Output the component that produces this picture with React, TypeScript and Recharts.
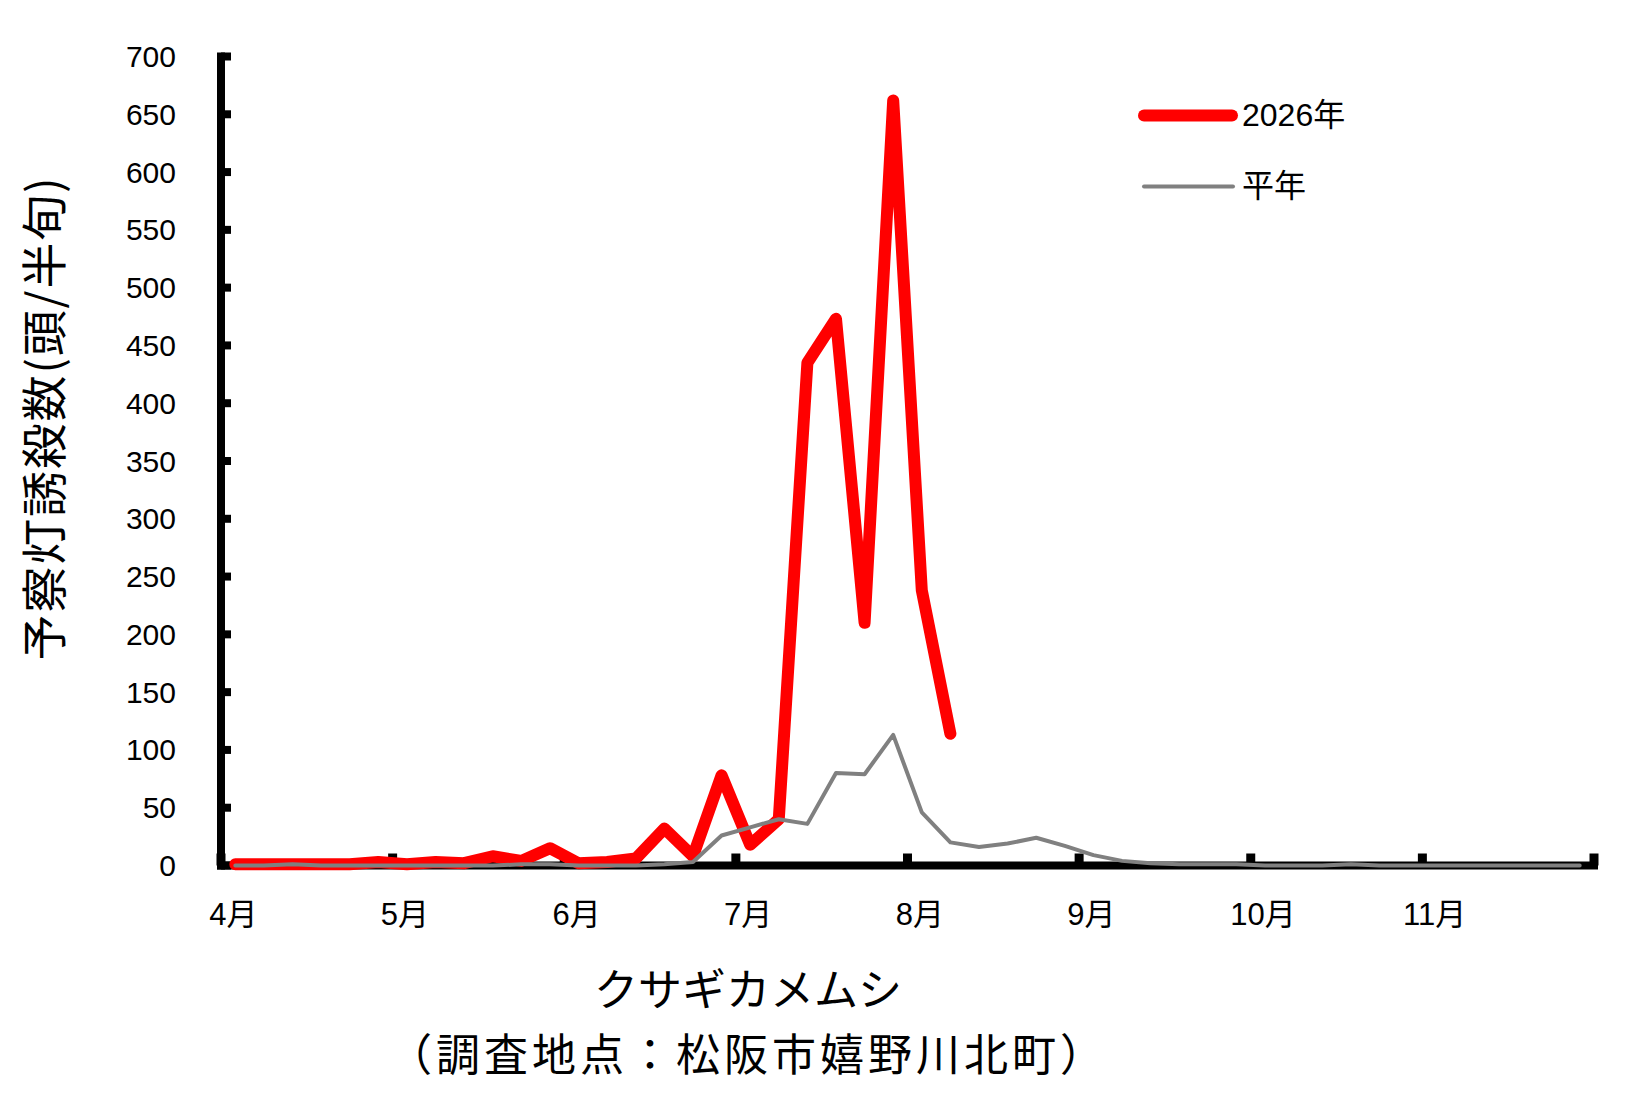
import React from 'react';
import { LineChart, Line, XAxis, YAxis, Legend } from 'recharts';

// 半旬 (5-day periods), 6 per month, April to November
const MONTHS = ['4月', '5月', '6月', '7月', '8月', '9月', '10月', '11月'];
const PERIODS_PER_MONTH = 6;

// 2026年 counts (stops at 8月 2nd 半旬)
const Y2026 = [
  1, 1, 1, 1, 1, 3,
  1, 3, 2, 8, 4, 15,
  2, 3, 6, 32, 8, 78,
  18, 40, 435, 473, 210, 662,
  238, 114,
];

// 平年 counts
const NORMAL = [
  0, 0, 1, 0, 0, 0,
  0, 0, 0, 0, 1, 1,
  0, 0, 0, 1, 3, 26,
  33, 40, 36, 80, 79, 113,
  46, 20, 16, 19, 24, 17,
  9, 4, 2, 1, 1, 1,
  0, 0, 0, 1, 0, 0,
  0, 0, 0, 0, 0, 0,
];

const Y_TICKS = [0, 50, 100, 150, 200, 250, 300, 350, 400, 450, 500, 550, 600, 650, 700];

const SERIES = [
  { key: 'y2026', name: '2026年', color: '#ff0000', width: 12 },
  { key: 'normal', name: '平年', color: '#808080', width: 4 },
];

const W = 1650;
const H = 1117;
const MARGIN = { top: 56.5, right: 56, bottom: 191.5, left: 0 };
const Y_AXIS_W = 221;
const X_AXIS_H = 60;
const PLOT_W = W - MARGIN.left - Y_AXIS_W - MARGIN.right;
const N_PERIODS = MONTHS.length * PERIODS_PER_MONTH;

const NUM_FONT = "'Liberation Sans', 'Noto Sans CJK JP', sans-serif";
const JP_FONT = "'Noto Sans CJK JP', sans-serif";

const data = NORMAL.map((v, i) => ({
  pos: i + 0.5,
  y2026: i < Y2026.length ? Y2026[i] : null,
  normal: v,
}));

const xTicks = [...MONTHS.map((_, k) => k * PERIODS_PER_MONTH), N_PERIODS];

function MonthTick(props: any) {
  const { x, y, payload } = props;
  const k = payload.value / PERIODS_PER_MONTH;
  const half = PLOT_W / N_PERIODS / 2;
  return (
    <g>
      <line x1={x} x2={x} y1={y} y2={y - 12} stroke="#000" strokeWidth={9} />
      {k < MONTHS.length && (
        <text
          x={x + half - 2}
          y={y + 49}
          textAnchor="middle"
          dominantBaseline="central"
          fontSize={31}
          fontFamily={NUM_FONT}
          fill="#000"
        >
          {MONTHS[k]}
        </text>
      )}
    </g>
  );
}

function CountTick(props: any) {
  const { x, y, payload } = props;
  return (
    <g>
      <line x1={x} x2={x + 10} y1={y} y2={y} stroke="#000" strokeWidth={8} />
      <text
        x={x - 45}
        y={y}
        textAnchor="end"
        dominantBaseline="central"
        fontSize={30}
        fontFamily={NUM_FONT}
        fill="#000"
      >
        {payload.value}
      </text>
    </g>
  );
}

function LegendBox(props: any) {
  const { payload = [] } = props;
  return (
    <div>
      {payload.map((entry: any) => {
        const s = SERIES.find((it) => it.key === entry.dataKey) || SERIES[0];
        const r = s.width / 2;
        return (
          <div key={s.key} style={{ display: 'flex', alignItems: 'center', height: 71 }}>
            <svg width={104} height={71}>
              <line
                x1={s.key === 'y2026' ? r : 4 + r}
                x2={s.key === 'y2026' ? 100 - r : 97 - r}
                y1={35.5}
                y2={35.5}
                stroke={s.color}
                strokeWidth={s.width}
                strokeLinecap="round"
              />
            </svg>
            <span style={{ fontSize: 32, fontFamily: NUM_FONT, color: '#000', lineHeight: '71px' }}>
              {entry.value}
            </span>
          </div>
        );
      })}
    </div>
  );
}

export default function App() {
  return (
    <div style={{ position: 'absolute', left: 0, top: 0, width: W, height: H, background: '#fff' }}>
      <LineChart width={W} height={H} data={data} margin={MARGIN}>
        <XAxis
          type="number"
          dataKey="pos"
          domain={[0, N_PERIODS]}
          ticks={xTicks}
          interval={0}
          height={X_AXIS_H}
          tickSize={0}
          tickMargin={0}
          tickLine={false}
          tick={<MonthTick />}
          axisLine={{ stroke: '#000', strokeWidth: 8, strokeLinecap: 'square' }}
        />
        <YAxis
          type="number"
          domain={[0, 700]}
          ticks={Y_TICKS}
          interval={0}
          width={Y_AXIS_W}
          tickSize={0}
          tickMargin={0}
          tickLine={false}
          tick={<CountTick />}
          axisLine={{ stroke: '#000', strokeWidth: 8, strokeLinecap: 'square' }}
        />
        <Legend
          layout="vertical"
          align="center"
          verticalAlign="middle"
          content={<LegendBox />}
          wrapperStyle={{ left: 1138, top: 79.5, width: 'auto', height: 'auto' }}
        />
        {SERIES.map((s) => (
          <Line
            key={s.key}
            type="linear"
            dataKey={s.key}
            name={s.name}
            stroke={s.color}
            strokeWidth={s.width}
            strokeLinejoin="round"
            strokeLinecap="round"
            dot={false}
            activeDot={false}
            zIndex={2000}
            isAnimationActive={false}
          />
        ))}
      </LineChart>
      <div
        style={{
          position: 'absolute',
          left: 41 - 300,
          top: 418 - 25,
          width: 600,
          height: 50,
          lineHeight: '50px',
          textAlign: 'center',
          transform: 'rotate(-90deg)',
          fontSize: 46,
          letterSpacing: 1.8,
          fontFamily: JP_FONT,
          color: '#000',
          whiteSpace: 'nowrap',
        }}
      >
        予察灯誘殺数(頭/半旬)
      </div>
      <div
        style={{
          position: 'absolute',
          left: 448,
          top: 963,
          width: 600,
          lineHeight: '48px',
          textAlign: 'center',
          fontSize: 44,
          fontFamily: JP_FONT,
          color: '#000',
          whiteSpace: 'nowrap',
        }}
      >
        クサギカメムシ
      </div>
      <div
        style={{
          position: 'absolute',
          left: 348,
          top: 1028,
          width: 800,
          lineHeight: '48px',
          textAlign: 'center',
          fontSize: 44,
          letterSpacing: 4,
          fontFamily: JP_FONT,
          color: '#000',
          whiteSpace: 'nowrap',
        }}
      >
        （調査地点：松阪市嬉野川北町）
      </div>
    </div>
  );
}
